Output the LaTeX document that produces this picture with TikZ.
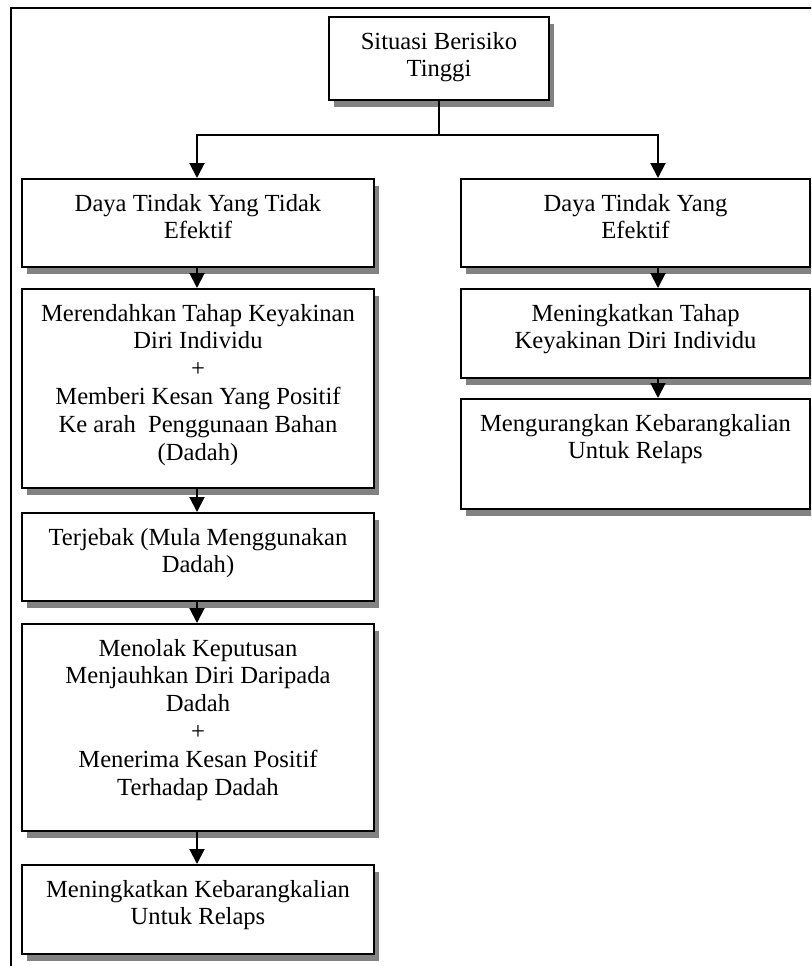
\documentclass[tikz,border=0pt]{standalone}
\usepackage{fontspec}
\setmainfont{Liberation Serif}
\usetikzlibrary{arrows.meta,shadows}
\definecolor{shadowgray}{RGB}{130,130,130}
\newcommand{\bxt}[3]{\parbox[t][#2][t]{#1}{\centering\fontsize{24.6}{27.8}\selectfont\rule{0pt}{32pt}#3}}
\tikzset{
  flowbox/.style={draw=black, line width=2pt, fill=white, inner sep=0pt, anchor=north west,
    drop shadow={shadow xshift=5pt, shadow yshift=-7pt, fill=shadowgray, opacity=1}},
  conn/.style={line width=2pt, draw=black},
  arr/.style={conn, -{Triangle[width=15pt,length=15pt]}},
  framestyle/.style={line width=1.6pt, draw=black}
}
\begin{document}
\begin{tikzpicture}[x=1pt,y=-1pt]
\useasboundingbox (0,0) rectangle (811,966);
\clip (0,0) rectangle (811,966);
\draw[framestyle] (11,1000) -- (11,8) -- (840,8);

\node[flowbox] (top) at (328,16) {\bxt{220pt}{83pt}{Situasi Berisiko\\Tinggi}};

\node[flowbox] (L1) at (21,178) {\bxt{352pt}{88pt}{\rule{0pt}{2pt}Daya Tindak Yang Tidak\\Efektif}};
\node[flowbox] (R1) at (460,178) {\bxt{349pt}{88pt}{\rule{0pt}{2pt}Daya Tindak Yang\\Efektif}};

\node[flowbox] (L2) at (21,288) {\bxt{352pt}{199pt}{Merendahkan Tahap Keyakinan\\Diri Individu\\+\\Memberi Kesan Yang Positif\\Ke arah\ \ Penggunaan Bahan\\(Dadah)}};
\node[flowbox] (R2) at (460,288) {\bxt{349pt}{89pt}{Meningkatkan Tahap\\Keyakinan Diri Individu}};
\node[flowbox] (R3) at (460,398) {\bxt{349pt}{110pt}{Mengurangkan Kebarangkalian\\Untuk Relaps}};

\node[flowbox] (L3) at (21,512) {\bxt{352pt}{88pt}{Terjebak (Mula Menggunakan\\Dadah)}};
\node[flowbox] (L4) at (21,623) {\bxt{352pt}{207pt}{Menolak Keputusan\\Menjauhkan Diri Daripada\\Dadah\\+\\Menerima Kesan Positif\\Terhadap Dadah}};
\node[flowbox] (L5) at (21,864) {\bxt{352pt}{89pt}{Meningkatkan Kebarangkalian\\Untuk Relaps}};

\coordinate (jl) at (197,135);
\coordinate (jr) at (658,135);
\draw[conn] (top.south -| 439,0) -- (439,135);
\draw[conn, {Triangle[width=15pt,length=15pt]}-{Triangle[width=15pt,length=15pt]}]
  (L1.north -| jl) -- (jl) -- (jr) -- (R1.north -| jr);

\draw[arr] (L1.south -| jl) -- (L2.north -| jl);
\draw[arr] (L2.south -| jl) -- (L3.north -| jl);
\draw[arr] (L3.south -| jl) -- (L4.north -| jl);
\draw[arr] (L4.south -| jl) -- (L5.north -| jl);

\draw[arr] (R1.south -| jr) -- (R2.north -| jr);
\draw[arr] (R2.south -| jr) -- (R3.north -| jr);
\end{tikzpicture}
\end{document}
